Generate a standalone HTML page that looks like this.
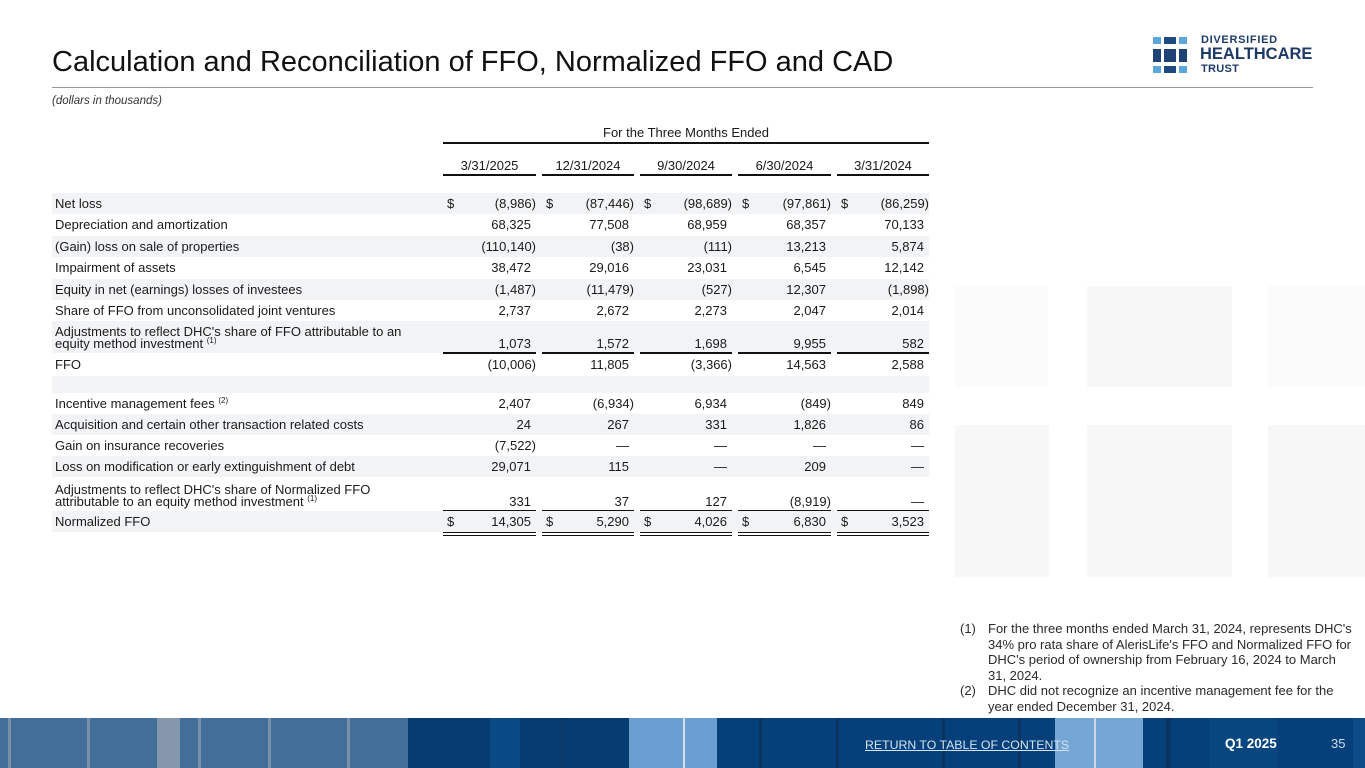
<!DOCTYPE html>
<html><head><meta charset="utf-8"><style>
*{margin:0;padding:0;box-sizing:border-box}
body{width:1365px;height:768px;position:relative;overflow:hidden;background:#fff;font-family:"Liberation Sans",Arial,sans-serif;color:#1a1a1a}
.a{position:absolute}
.row{position:absolute;left:0;width:1365px;font-size:13px;white-space:nowrap}
.band{position:absolute;left:52px;width:877px;top:0;height:100%;background:#f2f3f5}
.lb{position:absolute;left:55px}
.v{position:absolute}
.c1{right:829px}.c2{right:731px}.c3{right:633px}.c4{right:534px}.c5{right:436px}
.n1{right:834px}.n2{right:736px}.n3{right:638px}.n4{right:539px}.n5{right:441px}
.d1{left:447px}.d2{left:546px}.d3{left:644px}.d4{left:742px}.d5{left:841px}
.ln{position:absolute;height:1.5px;background:#111}
.sp{font-size:8px;position:relative;top:-5px}
.hd{position:absolute;font-size:13px;text-align:center;white-space:nowrap}
.sq{position:absolute}
.fn{position:absolute;font-size:13px;line-height:15.6px;white-space:nowrap;color:#2a2a2a}
</style></head><body>

<!-- background squares -->
<div class="sq" style="left:955px;top:286px;width:93px;height:101px;background:#fbfbfb"></div>
<div class="sq" style="left:1087px;top:286px;width:145px;height:101px;background:#f7f7f7"></div>
<div class="sq" style="left:1268px;top:286px;width:97px;height:101px;background:#fbfbfb"></div>
<div class="sq" style="left:955px;top:425px;width:94px;height:152px;background:#f7f7f7"></div>
<div class="sq" style="left:1087px;top:425px;width:145px;height:152px;background:#f7f7f7"></div>
<div class="sq" style="left:1268px;top:425px;width:97px;height:152px;background:#f7f7f7"></div>

<!-- title -->
<div class="a" style="left:52px;top:48px;font-size:29px;line-height:29px;color:#111;white-space:nowrap">Calculation and Reconciliation of FFO, Normalized FFO and CAD</div>
<div class="a" style="left:52px;top:87px;width:1261px;height:1px;background:#9a9a9a"></div>
<div class="a" style="left:52px;top:94px;font-size:11.5px;line-height:14px;font-style:italic;color:#333;white-space:nowrap">(dollars in thousands)</div>

<!-- logo -->
<div class="a" style="left:1153px;top:37px;width:8px;height:7px;background:#5da6dc"></div>
<div class="a" style="left:1164px;top:37px;width:12px;height:7px;background:#1d4a82"></div>
<div class="a" style="left:1179px;top:37px;width:8px;height:7px;background:#5da6dc"></div>
<div class="a" style="left:1153px;top:49px;width:8px;height:13px;background:#1d4275"></div>
<div class="a" style="left:1164px;top:49px;width:12px;height:13px;background:#1d4275"></div>
<div class="a" style="left:1179px;top:49px;width:8px;height:13px;background:#1d4275"></div>
<div class="a" style="left:1153px;top:66px;width:8px;height:7px;background:#5da6dc"></div>
<div class="a" style="left:1164px;top:66px;width:12px;height:7px;background:#1d4a82"></div>
<div class="a" style="left:1179px;top:66px;width:8px;height:7px;background:#5da6dc"></div>
<div class="a" style="left:1201px;top:34px;font-size:11px;line-height:13px;font-weight:bold;color:#1e3a66;letter-spacing:0.7px;white-space:nowrap">DIVERSIFIED</div>
<div class="a" style="left:1200px;top:45px;font-size:16.5px;line-height:19px;font-weight:bold;color:#1e3a66;white-space:nowrap">HEALTHCARE</div>
<div class="a" style="left:1201px;top:63px;font-size:11px;line-height:13px;font-weight:bold;color:#1e3a66;letter-spacing:0.3px;white-space:nowrap">TRUST</div>

<!-- table header -->
<div class="hd" style="left:443px;width:486px;top:125px;line-height:15px">For the Three Months Ended</div>
<div class="ln" style="left:443px;width:486px;top:142px"></div>
<div class="hd" style="left:443px;width:93px;top:158px;line-height:15px">3/31/2025</div>
<div class="hd" style="left:542px;width:92px;top:158px;line-height:15px">12/31/2024</div>
<div class="hd" style="left:640px;width:92px;top:158px;line-height:15px">9/30/2024</div>
<div class="hd" style="left:738px;width:93px;top:158px;line-height:15px">6/30/2024</div>
<div class="hd" style="left:837px;width:92px;top:158px;line-height:15px">3/31/2024</div>
<div class="ln" style="left:443px;width:93px;top:174px"></div>
<div class="ln" style="left:542px;width:92px;top:174px"></div>
<div class="ln" style="left:640px;width:92px;top:174px"></div>
<div class="ln" style="left:738px;width:93px;top:174px"></div>
<div class="ln" style="left:837px;width:92px;top:174px"></div>

<!-- rows -->
<div class="row" style="top:193px;height:21px;line-height:21px"><div class="band"></div><span class="lb">Net loss</span>
<span class="v d1">$</span><span class="v c1">(8,986)</span><span class="v d2">$</span><span class="v c2">(87,446)</span><span class="v d3">$</span><span class="v c3">(98,689)</span><span class="v d4">$</span><span class="v c4">(97,861)</span><span class="v d5">$</span><span class="v c5">(86,259)</span></div>

<div class="row" style="top:214px;height:22px;line-height:22px"><span class="lb">Depreciation and amortization</span>
<span class="v n1">68,325</span><span class="v n2">77,508</span><span class="v n3">68,959</span><span class="v n4">68,357</span><span class="v n5">70,133</span></div>

<div class="row" style="top:236px;height:21px;line-height:21px"><div class="band"></div><span class="lb">(Gain) loss on sale of properties</span>
<span class="v c1">(110,140)</span><span class="v c2">(38)</span><span class="v c3">(111)</span><span class="v n4">13,213</span><span class="v n5">5,874</span></div>

<div class="row" style="top:257px;height:22px;line-height:22px"><span class="lb">Impairment of assets</span>
<span class="v n1">38,472</span><span class="v n2">29,016</span><span class="v n3">23,031</span><span class="v n4">6,545</span><span class="v n5">12,142</span></div>

<div class="row" style="top:279px;height:21px;line-height:21px"><div class="band"></div><span class="lb">Equity in net (earnings) losses of investees</span>
<span class="v c1">(1,487)</span><span class="v c2">(11,479)</span><span class="v c3">(527)</span><span class="v n4">12,307</span><span class="v c5">(1,898)</span></div>

<div class="row" style="top:300px;height:21px;line-height:21px"><span class="lb">Share of FFO from unconsolidated joint ventures</span>
<span class="v n1">2,737</span><span class="v n2">2,672</span><span class="v n3">2,273</span><span class="v n4">2,047</span><span class="v n5">2,014</span></div>

<div class="row" style="top:321px;height:32px;line-height:12px"><div class="band"></div>
<span class="lb" style="top:5px">Adjustments to reflect DHC's share of FFO attributable to an<br>equity method investment <span class="sp">(1)</span></span>
<span class="v n1" style="top:17px">1,073</span><span class="v n2" style="top:17px">1,572</span><span class="v n3" style="top:17px">1,698</span><span class="v n4" style="top:17px">9,955</span><span class="v n5" style="top:17px">582</span></div>
<div class="ln" style="left:443px;width:93px;top:352px"></div>
<div class="ln" style="left:542px;width:92px;top:352px"></div>
<div class="ln" style="left:640px;width:92px;top:352px"></div>
<div class="ln" style="left:738px;width:93px;top:352px"></div>
<div class="ln" style="left:837px;width:92px;top:352px"></div>

<div class="row" style="top:354px;height:22px;line-height:22px"><span class="lb">FFO</span>
<span class="v c1">(10,006)</span><span class="v n2">11,805</span><span class="v c3">(3,366)</span><span class="v n4">14,563</span><span class="v n5">2,588</span></div>

<div class="row" style="top:376px;height:17px"><div class="band"></div></div>

<div class="row" style="top:393px;height:21px;line-height:21px"><span class="lb">Incentive management fees <span class="sp">(2)</span></span>
<span class="v n1">2,407</span><span class="v c2">(6,934)</span><span class="v n3">6,934</span><span class="v c4">(849)</span><span class="v n5">849</span></div>

<div class="row" style="top:414px;height:21px;line-height:21px"><div class="band"></div><span class="lb">Acquisition and certain other transaction related costs</span>
<span class="v n1">24</span><span class="v n2">267</span><span class="v n3">331</span><span class="v n4">1,826</span><span class="v n5">86</span></div>

<div class="row" style="top:435px;height:21px;line-height:21px"><span class="lb">Gain on insurance recoveries</span>
<span class="v c1">(7,522)</span><span class="v n2">—</span><span class="v n3">—</span><span class="v n4">—</span><span class="v n5">—</span></div>

<div class="row" style="top:456px;height:21px;line-height:21px"><div class="band"></div><span class="lb">Loss on modification or early extinguishment of debt</span>
<span class="v n1">29,071</span><span class="v n2">115</span><span class="v n3">—</span><span class="v n4">209</span><span class="v n5">—</span></div>

<div class="row" style="top:477px;height:34px;line-height:12px">
<span class="lb" style="top:7px">Adjustments to reflect DHC's share of Normalized FFO<br>attributable to an equity method investment <span class="sp">(1)</span></span>
<span class="v n1" style="top:19px">331</span><span class="v n2" style="top:19px">37</span><span class="v n3" style="top:19px">127</span><span class="v c4" style="top:19px">(8,919)</span><span class="v n5" style="top:19px">—</span></div>
<div class="ln" style="left:443px;width:93px;top:510px"></div>
<div class="ln" style="left:542px;width:92px;top:510px"></div>
<div class="ln" style="left:640px;width:92px;top:510px"></div>
<div class="ln" style="left:738px;width:93px;top:510px"></div>
<div class="ln" style="left:837px;width:92px;top:510px"></div>

<div class="row" style="top:511px;height:21px;line-height:21px"><div class="band"></div><span class="lb">Normalized FFO</span>
<span class="v d1">$</span><span class="v n1">14,305</span><span class="v d2">$</span><span class="v n2">5,290</span><span class="v d3">$</span><span class="v n3">4,026</span><span class="v d4">$</span><span class="v n4">6,830</span><span class="v d5">$</span><span class="v n5">3,523</span></div>
<div class="ln" style="left:443px;width:93px;top:532px;height:1px"></div>
<div class="ln" style="left:542px;width:92px;top:532px;height:1px"></div>
<div class="ln" style="left:640px;width:92px;top:532px;height:1px"></div>
<div class="ln" style="left:738px;width:93px;top:532px;height:1px"></div>
<div class="ln" style="left:837px;width:92px;top:532px;height:1px"></div>
<div class="ln" style="left:443px;width:93px;top:535px;height:1px"></div>
<div class="ln" style="left:542px;width:92px;top:535px;height:1px"></div>
<div class="ln" style="left:640px;width:92px;top:535px;height:1px"></div>
<div class="ln" style="left:738px;width:93px;top:535px;height:1px"></div>
<div class="ln" style="left:837px;width:92px;top:535px;height:1px"></div>

<!-- footnotes -->
<div class="fn" style="left:960px;top:621px">(1)<br><br><br><br>(2)</div>
<div class="fn" style="left:988px;top:621px">For the three months ended March 31, 2024, represents DHC's<br>34% pro rata share of AlerisLife's FFO and Normalized FFO for<br>DHC's period of ownership from February 16, 2024 to March<br>31, 2024.<br>DHC did not recognize an incentive management fee for the<br>year ended December 31, 2024.</div>

<!-- bottom band -->
<div class="a" style="left:0;top:718px;width:1365px;height:50px;background:#06407a"></div>
<div class="a" style="left:0;top:718px;width:408px;height:50px;background:#426f98"></div>
<div class="a" style="left:8px;top:718px;width:3px;height:50px;background:#7890a8"></div>
<div class="a" style="left:87px;top:718px;width:3px;height:50px;background:#7890a8"></div>
<div class="a" style="left:157px;top:718px;width:23px;height:50px;background:#8597ab"></div>
<div class="a" style="left:198px;top:718px;width:3px;height:50px;background:#7890a8"></div>
<div class="a" style="left:268px;top:718px;width:3px;height:50px;background:#7890a8"></div>
<div class="a" style="left:347px;top:718px;width:3px;height:50px;background:#7890a8"></div>
<div class="a" style="left:408px;top:718px;width:221px;height:50px;background:#053d73"></div>
<div class="a" style="left:490px;top:718px;width:30px;height:50px;background:#084a86"></div>
<div class="a" style="left:560px;top:718px;width:6px;height:50px;background:#0a3a6a"></div>
<div class="a" style="left:629px;top:718px;width:88px;height:50px;background:#6b9fd1"></div>
<div class="a" style="left:683px;top:718px;width:2px;height:50px;background:#d6dde6"></div>
<div class="a" style="left:717px;top:718px;width:338px;height:50px;background:#06407a"></div>
<div class="a" style="left:759px;top:718px;width:3px;height:50px;background:#0a3562"></div>
<div class="a" style="left:836px;top:718px;width:3px;height:50px;background:#0a3562"></div>
<div class="a" style="left:942px;top:718px;width:3px;height:50px;background:#0a3562"></div>
<div class="a" style="left:1018px;top:718px;width:3px;height:50px;background:#0a3562"></div>
<div class="a" style="left:1055px;top:718px;width:88px;height:50px;background:#76a6d6"></div>
<div class="a" style="left:1094px;top:718px;width:2px;height:50px;background:#d0d6dd"></div>
<div class="a" style="left:1166px;top:718px;width:5px;height:50px;background:#0a3562"></div>
<div class="a" style="left:1209px;top:718px;width:68px;height:50px;background:#07467f"></div>
<div class="a" style="left:1353px;top:718px;width:12px;height:50px;background:#0d4c88"></div>
<div class="a" style="left:865px;top:737px;font-size:12.3px;line-height:16px;color:#d3e2f2;text-decoration:underline;white-space:nowrap">RETURN TO TABLE OF CONTENTS</div>
<div class="a" style="left:1225px;top:736px;font-size:13.5px;line-height:16px;color:#fff;font-weight:bold;white-space:nowrap">Q1 2025</div>
<div class="a" style="left:1331px;top:736px;font-size:13px;line-height:16px;color:#d0dcea;white-space:nowrap">35</div>

</body></html>
